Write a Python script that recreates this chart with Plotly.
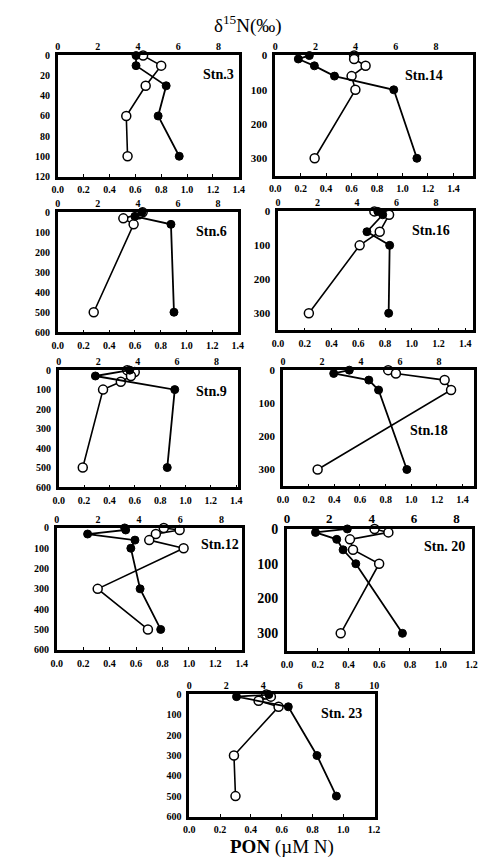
import plotly.graph_objects as go

W, H = 486, 868

# ---------------- data (filled = d15N on top axis, open = PON on bottom axis) -------------
stations = ["Stn.3", "Stn.14", "Stn.6", "Stn.16", "Stn.9", "Stn.18", "Stn.12", "Stn. 20", "Stn. 23"]

stn3_d15n_depth = [0, 10, 30, 60, 100]
stn3_d15n = [3.9, 3.9, 5.4, 5.0, 6.05]
stn3_pon_depth = [0, 10, 30, 60, 100]
stn3_pon = [0.66, 0.80, 0.68, 0.53, 0.54]

stn14_d15n_depth = [0, 10, 30, 60, 100, 300]
stn14_d15n = [1.7, 1.15, 1.95, 2.95, 5.9, 7.05]
stn14_pon_depth = [0, 10, 30, 60, 100, 300]
stn14_pon = [0.62, 0.62, 0.71, 0.60, 0.63, 0.31]

stn6_d15n_depth = [0, 20, 60, 500]
stn6_d15n = [4.2, 3.85, 5.65, 5.8]
stn6_pon_depth = [0, 10, 30, 60, 500]
stn6_pon = [0.66, 0.63, 0.51, 0.59, 0.28]

stn16_d15n_depth = [0, 10, 60, 100, 300]
stn16_d15n = [5.05, 5.3, 4.5, 5.65, 5.6]
stn16_pon_depth = [0, 10, 60, 100, 300]
stn16_pon = [0.72, 0.83, 0.76, 0.61, 0.23]

stn9_d15n_depth = [0, 30, 100, 500]
stn9_d15n = [3.6, 1.86, 5.88, 5.5]
stn9_pon_depth = [0, 10, 30, 60, 100, 500]
stn9_pon = [0.54, 0.60, 0.57, 0.49, 0.35, 0.19]

stn18_d15n_depth = [0, 10, 30, 60, 300]
stn18_d15n = [3.4, 2.6, 4.4, 4.9, 6.35]
stn18_pon_depth = [0, 10, 30, 60, 300]
stn18_pon = [0.82, 0.88, 1.26, 1.31, 0.27]

stn12_d15n_depth = [0, 10, 30, 60, 100, 300, 500]
stn12_d15n = [3.3, 3.35, 1.5, 3.8, 3.6, 4.05, 5.05]
stn12_pon_depth = [0, 10, 30, 60, 100, 300, 500]
stn12_pon = [0.81, 0.93, 0.75, 0.70, 0.96, 0.31, 0.69]

stn20_d15n_depth = [0, 10, 30, 60, 100, 300]
stn20_d15n = [2.85, 1.35, 2.35, 2.65, 3.25, 5.45]
stn20_pon_depth = [0, 10, 30, 60, 100, 300]
stn20_pon = [0.57, 0.66, 0.41, 0.43, 0.60, 0.35]

stn23_d15n_depth = [0, 10, 60, 300, 500]
stn23_d15n = [4.3, 2.55, 5.35, 6.9, 7.95]
stn23_pon_depth = [0, 10, 30, 60, 300, 500]
stn23_pon = [0.50, 0.53, 0.45, 0.58, 0.29, 0.30]

d15n_depths = [stn3_d15n_depth, stn14_d15n_depth, stn6_d15n_depth, stn16_d15n_depth, stn9_d15n_depth,
               stn18_d15n_depth, stn12_d15n_depth, stn20_d15n_depth, stn23_d15n_depth]
d15n_vals = [stn3_d15n, stn14_d15n, stn6_d15n, stn16_d15n, stn9_d15n,
             stn18_d15n, stn12_d15n, stn20_d15n, stn23_d15n]
pon_depths = [stn3_pon_depth, stn14_pon_depth, stn6_pon_depth, stn16_pon_depth, stn9_pon_depth,
              stn18_pon_depth, stn12_pon_depth, stn20_pon_depth, stn23_pon_depth]
pon_vals = [stn3_pon, stn14_pon, stn6_pon, stn16_pon, stn9_pon,
            stn18_pon, stn12_pon, stn20_pon, stn23_pon]

# ---------------- panel geometry / styles (pixels) ----------------
panels = [
    dict(box=(53, 49, 239, 172), bot=1.402, top=9.03, ymax=120, ydt=20, lab=(218, 68), yfs=10, tfs=10, bfs=10),
    dict(box=(276, 49, 479, 171), bot=1.555, top=9.85, ymax=350, ydt=100, lab=(429, 69), yfs=11, tfs=10, bfs=10),
    dict(box=(53, 208, 238, 330), bot=1.402, top=9.0, ymax=600, ydt=100, lab=(211, 228), yfs=10, tfs=10, bfs=10),
    dict(box=(279, 207, 479, 328), bot=1.459, top=9.88, ymax=350, ydt=100, lab=(436, 227), yfs=11, tfs=10, bfs=10),
    dict(box=(54, 368, 238, 487), bot=1.415, top=9.09, ymax=600, ydt=100, lab=(211, 390), yfs=10, tfs=10, bfs=10),
    dict(box=(284, 368, 480, 486), bot=1.49, top=9.8, ymax=350, ydt=100, lab=(434, 429), yfs=11, tfs=10, bfs=10),
    dict(box=(52, 528, 242, 652), bot=1.402, top=9.0, ymax=600, ydt=100, lab=(219, 545), yfs=10, tfs=10, bfs=10),
    dict(box=(288, 529, 478, 653), bot=1.205, top=8.74, ymax=350, ydt=100, lab=(450, 547), yfs=14, tfs=13, bfs=10),
    dict(box=(188, 697, 378, 821), bot=1.205, top=10.02, ymax=600, ydt=100, lab=(344, 716), yfs=10, tfs=10, bfs=10),
]

SERIF = "Liberation Serif, Times New Roman, serif"

fig = go.Figure()
layout = {}
annotations = []


def axname(prefix, n):
    return prefix if n == 1 else f"{prefix}{n}"


for i, p in enumerate(panels, start=1):
    l, t, r, b = p["box"]
    nb, nt = 2 * i - 1, 2 * i
    xb_ref, xt_ref, y_ref = axname("x", nb), axname("x", nt), axname("y", i)

    layout[axname("xaxis", nb)] = dict(
        domain=[l / W, r / W], anchor=y_ref, range=[0, p["bot"]], dtick=0.2, tick0=0,
        tickformat=".1f", showline=True, linewidth=2.5, linecolor="black", mirror=True,
        ticks="inside", ticklen=3, tickwidth=1, tickcolor="black", showgrid=False, zeroline=False,
        tickfont=dict(family=SERIF, size=p["bfs"], color="black", weight="bold"), ticklabelstandoff=2)
    layout[axname("xaxis", nt)] = dict(
        overlaying=xb_ref, anchor=y_ref, side="top", range=[0, p["top"]], dtick=2, tick0=0,
        showline=False, showgrid=False, zeroline=False, ticks="",
        tickfont=dict(family=SERIF, size=p["tfs"], color="black", weight="bold"), ticklabelstandoff=2)
    layout[axname("yaxis", i)] = dict(
        domain=[1 - b / H, 1 - t / H], anchor=xb_ref, range=[p["ymax"] * 1.002, -p["ymax"] * 0.002],
        dtick=p["ydt"], tick0=0, showline=True, linewidth=2.5, linecolor="black", mirror=True,
        ticks="", showgrid=False, zeroline=False,
        tickfont=dict(family=SERIF, size=p["yfs"], color="black", weight="bold"), ticklabelstandoff=3)

    fig.add_trace(go.Scatter(
        x=d15n_vals[i - 1], y=d15n_depths[i - 1], xaxis=xt_ref, yaxis=y_ref, mode="lines+markers",
        line=dict(color="black", width=1.8),
        marker=dict(symbol="circle", size=8, color="black", line=dict(color="black", width=1)),
        showlegend=False, cliponaxis=False))
    fig.add_trace(go.Scatter(
        x=pon_vals[i - 1], y=pon_depths[i - 1], xaxis=xb_ref, yaxis=y_ref, mode="lines+markers",
        line=dict(color="black", width=1.6),
        marker=dict(symbol="circle", size=9, color="white", line=dict(color="black", width=1.5)),
        showlegend=False, cliponaxis=False))

    lx, ly = p["lab"]
    annotations.append(dict(
        text=stations[i - 1], x=lx / W, y=1 - ly / H, xref="paper", yref="paper",
        xanchor="center", yanchor="middle", showarrow=False,
        font=dict(family=SERIF, size=14, color="black", weight="bold")))

annotations.append(dict(
    text="δ<sup>15</sup>N(‰)", x=248 / W, y=1 - 18 / H, xref="paper", yref="paper",
    xanchor="center", yanchor="middle", showarrow=False,
    font=dict(family=SERIF, size=19, color="black")))
annotations.append(dict(
    text="<b>PON</b> (µM N)", x=283 / W, y=1 - 852 / H, xref="paper", yref="paper",
    xanchor="center", yanchor="middle", showarrow=False,
    font=dict(family=SERIF, size=19, color="black")))

fig.update_layout(
    width=W, height=H, margin=dict(l=0, r=0, t=0, b=0),
    paper_bgcolor="white", plot_bgcolor="white",
    annotations=annotations, **layout)

fig.write_html("out.html")
